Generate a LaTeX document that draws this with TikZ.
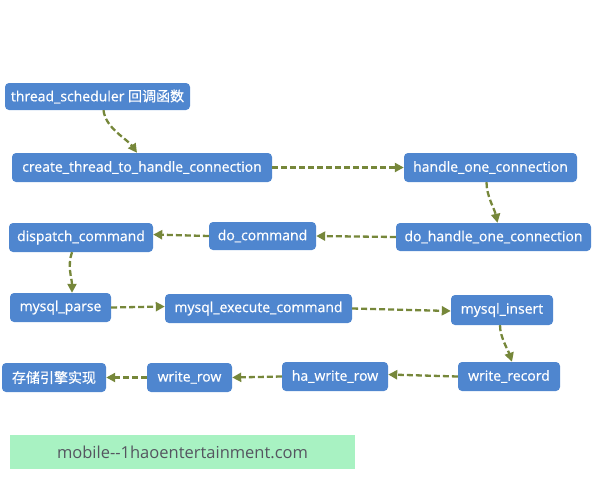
\documentclass[tikz,border=0pt]{standalone}
\usepackage{fontspec}
\setmainfont{Open Sans}
\newfontfamily\boxfont[FakeBold=0.6]{Open Sans}
\newfontfamily\cjk[FakeBold=0.6]{Noto Sans CJK SC}
\usetikzlibrary{arrows.meta}
\definecolor{boxblue}{HTML}{4F86CF}
\definecolor{arrowolive}{HTML}{76873A}
\definecolor{wmgreen}{HTML}{A8F2C2}
\definecolor{wmtext}{HTML}{555560}
\begin{document}
\begin{tikzpicture}[x=1pt,y=-1pt,
  fbox/.style={draw=none,fill=boxblue,rounded corners=4pt,text=white,
    font=\boxfont\fontsize{14}{16}\selectfont,inner sep=0pt},
  flow/.style={draw=arrowolive,line width=2.3pt,dash pattern=on 6pt off 3pt,
    -{Triangle[length=9pt,width=9pt]}}]
\useasboundingbox (0,0) rectangle (600,480);
\node[fbox,minimum width=185,minimum height=27] (n1) at (97.5,96.5) {thread\_scheduler {\cjk 回调函数}};
\node[fbox,minimum width=260,minimum height=29] (n2) at (142,167.5) {create\_thread\_to\_handle\_connection};
\node[fbox,minimum width=173,minimum height=29] (n3) at (490.5,167.5) {handle\_one\_connection};
\node[fbox,minimum width=195,minimum height=28] (n4) at (493.5,237) {do\_handle\_one\_connection};
\node[fbox,minimum width=107,minimum height=28] (n5) at (262.5,236) {do\_command};
\node[fbox,minimum width=144,minimum height=29] (n6) at (81,237.5) {dispatch\_command};
\node[fbox,minimum width=101,minimum height=29] (n7) at (60.5,307.5) {mysql\_parse};
\node[fbox,minimum width=187,minimum height=29] (n8) at (258.5,308.5) {mysql\_execute\_command};
\node[fbox,minimum width=102,minimum height=30] (n9) at (502,310) {mysql\_insert};
\node[fbox,minimum width=102,minimum height=29] (n10) at (509,376.5) {write\_record};
\node[fbox,minimum width=106,minimum height=29] (n11) at (335,376.5) {ha\_write\_row};
\node[fbox,minimum width=85,minimum height=29] (n12) at (189.5,377.5) {write\_row};
\node[fbox,minimum width=104,minimum height=29] (n13) at (54,377.5) {\cjk 存储引擎实现};
\node[fill=wmgreen,minimum width=345,minimum height=34,inner sep=0pt,text=wmtext,
  font=\fontsize{16.5}{18}\selectfont] (wm) at (182.5,452) {mobile-{}-1haoentertainment.com};
\draw[flow] ([xshift=6]n1.south) .. controls +(2,18) and +(-10,-14) .. ([xshift=-5]n2.north);
\draw[flow] (n2.east) -- (n3.west);
\draw[flow] ([xshift=-4]n3.south) .. controls +(0,14) and +(-3,-14) .. ([xshift=4]n4.north);
\draw[flow] (n4.west) -- (n5.east);
\draw[flow] (n5.west) -- ([yshift=3]n6.east);
\draw[flow] ([xshift=-9]n6.south) .. controls +(-5,14) and +(0,-14) .. ([xshift=-9]n6.south |- n7.north);
\draw[flow] (n7.east) -- ([yshift=2]n8.west);
\draw[flow] (n8.east) -- ([yshift=-1]n9.west);
\draw[flow] ([xshift=-2]n9.south) .. controls +(0,12) and +(-4,-12) .. ([xshift=3]n10.north);
\draw[flow] (n10.west) -- ([yshift=2]n11.east);
\draw[flow] (n11.west) -- (n12.east);
\draw[flow] (n12.west) -- (n13.east);
\end{tikzpicture}
\end{document}
